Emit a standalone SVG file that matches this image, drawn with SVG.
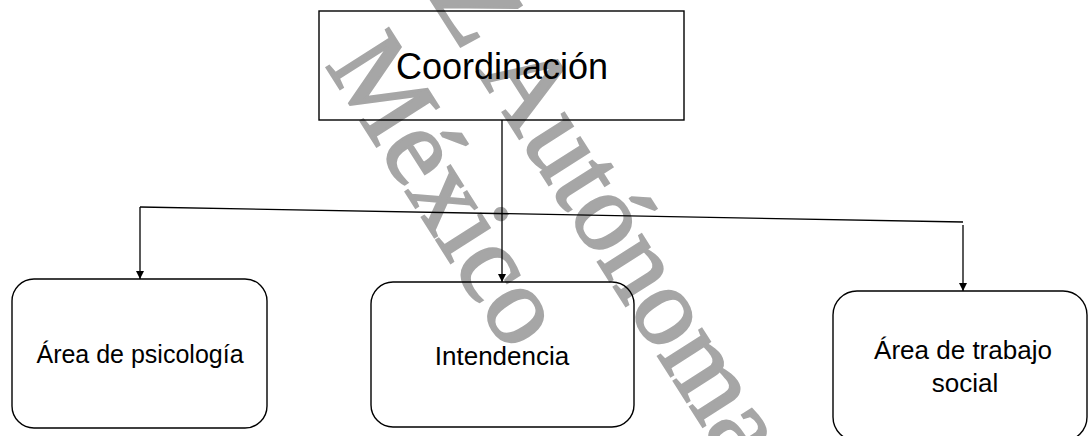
<svg xmlns="http://www.w3.org/2000/svg" width="1089" height="436" viewBox="0 0 1089 436">
<style>
.wm{font-family:"Liberation Serif","Times New Roman",serif;font-size:112px;fill:#a6a6a6;stroke:#a6a6a6;stroke-width:2.5}
.rbox{fill:none;stroke:#000;stroke-width:1.4}
.lbl{font-family:"Liberation Sans",Arial,sans-serif;fill:#000;text-anchor:middle}
.con{fill:none;stroke:#000;stroke-width:1.3}
</style>
<defs>
<marker id="arr" markerUnits="userSpaceOnUse" markerWidth="8" markerHeight="8" refX="8" refY="4" orient="auto">
<path d="M0,0 L8,4 L0,8 z" fill="#000"/>
</marker>
</defs>
<rect width="1089" height="436" fill="#fff"/>
<g id="watermark">
<text class="wm" transform="translate(428,-5) rotate(57.5)">Z Autónoma</text>
<text class="wm" transform="translate(325,65) rotate(57.5)">México</text>
</g>
<g id="n-coordinacion">
<rect class="rbox" x="319" y="11" width="365" height="109"/>
<text class="lbl" x="502" y="79" font-size="36">Coordinación</text>
</g>
<g id="n-psicologia">
<rect class="rbox" x="12" y="279" width="255" height="149" rx="22" ry="22"/>
<text class="lbl" x="140" y="363" font-size="25">Área de psicología</text>
</g>
<g id="n-intendencia">
<rect class="rbox" x="371" y="282" width="263" height="145" rx="22" ry="22"/>
<text class="lbl" x="502" y="365" font-size="26">Intendencia</text>
</g>
<g id="n-trabajo">
<rect class="rbox" x="833" y="291" width="254" height="150" rx="24" ry="24"/>
<text class="lbl" x="963" y="359" font-size="26">Área de trabajo</text>
<text class="lbl" x="965" y="392" font-size="26">social</text>
</g>
<g id="connectors">
<line class="con" x1="140" y1="207" x2="963" y2="222"/>
<line class="con" x1="502" y1="120" x2="502" y2="282" marker-end="url(#arr)"/>
<line class="con" x1="140" y1="207" x2="140" y2="279" marker-end="url(#arr)"/>
<line class="con" x1="963" y1="225" x2="963" y2="291" marker-end="url(#arr)"/>
</g>
</svg>
